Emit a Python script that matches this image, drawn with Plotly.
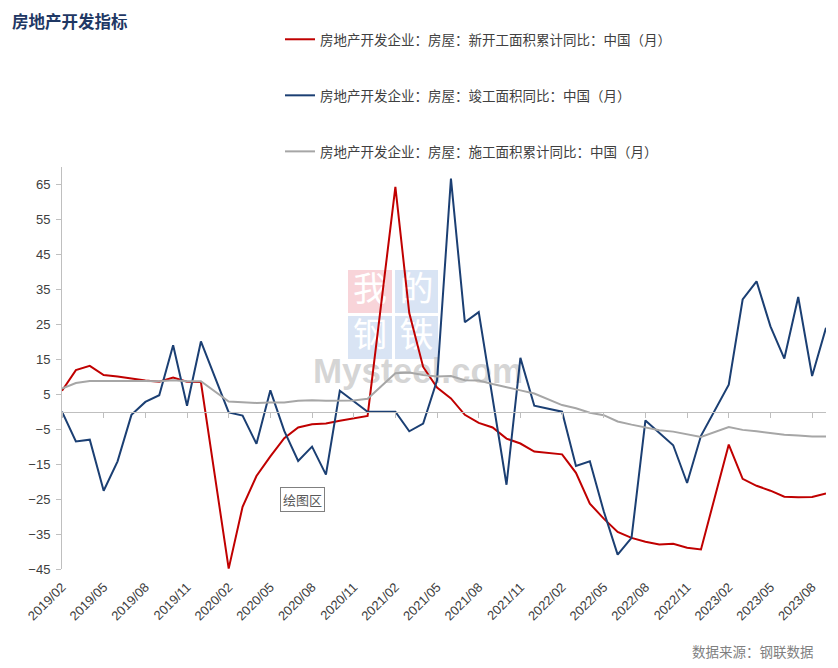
import plotly.graph_objects as go
import pandas as pd

# ---- data ----
months = [p.strftime("%Y/%m") for p in pd.period_range("2019-02", "2023-09", freq="M")]

new_start = [6.0, 11.9, 13.1, 10.5, 10.1, 9.5, 8.9, 8.6, 9.8, 8.6, 8.5, None,
             -44.9, -27.2, -18.4, -12.8, -7.6, -4.5, -3.6, -3.4, -2.6, -2.0, -1.2, None,
             64.3, 28.2, 12.8, 6.9, 3.8, -0.9, -3.2, -4.5, -7.7, -9.1, -11.4, None,
             -12.2, -17.5, -26.3, -30.6, -34.4, -36.1, -37.2, -38.0, -37.8, -38.9, -39.4, None,
             -9.4, -19.2, -21.2, -22.6, -24.3, -24.5, -24.4, -23.4]

completed = [0.0, -8.5, -8.0, -22.6, -14.2, -0.9, 2.8, 4.7, 19.0, 1.7, 20.1, None,
             -0.2, -1.1, -9.2, 6.1, -5.5, -14.1, -10.0, -18.0, 6.0, 3.0, 0.0, None,
             0.0, -5.6, -3.4, 9.0, 66.7, 25.6, 28.5, 3.2, -20.9, 15.4, 1.7, None,
             0.0, -15.5, -14.2, -28.5, -40.9, -36.1, -2.5, -6.0, -9.6, -20.4, -6.9, None,
             7.7, 32.1, 37.3, 24.4, 15.2, 32.8, 10.2, 24.0]

under_constr = [6.6, 8.2, 8.8, 8.8, 8.8, 9.0, 8.8, 8.7, 9.0, 8.7, 8.7, None,
                2.9, 2.6, 2.5, 2.6, 2.6, 3.1, 3.3, 3.1, 3.2, 3.2, 3.7, None,
                11.0, 11.2, 10.5, 10.1, 10.2, 9.0, 8.9, 7.9, 7.1, 6.1, 5.2, None,
                1.9, 1.0, -0.3, -1.0, -2.8, -3.7, -4.5, -5.3, -5.7, -6.5, -7.2, None,
                -4.4, -5.2, -5.6, -6.2, -6.6, -6.8, -7.1, -7.1]

tick_labels = ["2019/02", "2019/05", "2019/08", "2019/11", "2020/02", "2020/05",
               "2020/08", "2020/11", "2021/02", "2021/05", "2021/08", "2021/11",
               "2022/02", "2022/05", "2022/08", "2022/11", "2023/02", "2023/05",
               "2023/08"]
y_ticks = [-45, -35, -25, -15, -5, 5, 15, 25, 35, 45, 55, 65]

series_names = ["房地产开发企业：房屋：新开工面积累计同比：中国（月）",
                "房地产开发企业：房屋：竣工面积同比：中国（月）",
                "房地产开发企业：房屋：施工面积累计同比：中国（月）"]
series_colors = ["#C00000", "#1B3F73", "#A6A6A6"]

idx = list(range(len(months)))
tick_pos = [months.index(t) for t in tick_labels]

CJK = "Noto Sans CJK SC"
AXIS_C = "#BFBFBF"

fig = go.Figure()
for name, vals, col, g in zip(series_names, [new_start, completed, under_constr],
                              series_colors, ["a", "b", "c"]):
    fig.add_trace(go.Scatter(x=idx, y=vals, mode="lines", name=name,
                             line=dict(color=col, width=2), connectgaps=True,
                             legendgroup=g))

# helper trace so the zero-crossing category axis is drawn
fig.add_trace(go.Scatter(x=[idx[0], idx[-1]], y=[None, None], xaxis="x2",
                         showlegend=False, hoverinfo="skip"))

y_min, y_max = -45, 70
zero_pos = (0 - y_min) / (y_max - y_min)

fig.update_layout(
    width=838, height=668, autosize=False,
    margin=dict(l=62, r=12, t=167, b=99, autoexpand=False),
    paper_bgcolor="white", plot_bgcolor="white",
    title=dict(text="<b>房地产开发指标</b>", x=12 / 838, xanchor="left", xref="container",
               y=1 - 22 / 668, yanchor="middle", yref="container",
               font=dict(family=CJK, size=16.5, color="#1F3864")),
    xaxis=dict(range=[0, len(months) - 1], tickvals=tick_pos, ticktext=tick_labels,
               tickangle=-45, showline=False, ticks="", showgrid=False, zeroline=False,
               ticklabelstandoff=7,
               tickfont=dict(family="Liberation Sans", size=13, color="#404040")),
    xaxis2=dict(overlaying="x", anchor="free", position=zero_pos, side="bottom",
                range=[0, len(months) - 1], tickvals=tick_pos, showticklabels=False,
                ticks="outside", ticklen=5, tickcolor=AXIS_C, showline=True,
                linecolor=AXIS_C, linewidth=1, showgrid=False, zeroline=False),
    yaxis=dict(range=[y_min, y_max], tickvals=y_ticks, showline=True, linecolor=AXIS_C,
               linewidth=1, ticks="outside", ticklen=5, tickcolor=AXIS_C,
               showgrid=False, zeroline=False, ticklabelstandoff=3,
               tickfont=dict(family="Liberation Sans", size=13, color="#404040")),
    legend=dict(xref="container", yref="container", x=280 / 838, y=1 - 24 / 668,
                xanchor="left", yanchor="top", tracegroupgap=35.5, itemwidth=30,
                bgcolor="rgba(0,0,0,0)",
                font=dict(family=CJK, size=13.5, color="#404040")),
    showlegend=True,
)

# footer and plot-area label
fig.add_annotation(text="数据来源：钢联数据", xref="paper", yref="paper",
                   x=(816 - 62) / 764, y=(569 - 651) / 402, xanchor="right", yanchor="middle",
                   showarrow=False, font=dict(family=CJK, size=13.5, color="#7F7F7F"))
fig.add_annotation(text="绘图区", xref="paper", yref="paper",
                   x=(302.5 - 62) / 764, y=(569 - 499.5) / 402, xanchor="center",
                   yanchor="middle", showarrow=False, bgcolor="white",
                   bordercolor="#808080", borderwidth=1, borderpad=2,
                   font=dict(family=CJK, size=13, color="#595959"))

# watermark (drawn below the lines)
def px2paper(X, Y):
    return (X - 62) / 764, (569 - Y) / 402

wm = [("我", 348, 270, 392, 313, "rgba(240,160,170,0.45)"),
      ("的", 395, 270, 438, 313, "rgba(170,195,230,0.45)"),
      ("钢", 348, 316, 392, 359, "rgba(170,195,230,0.45)"),
      ("铁", 395, 316, 438, 359, "rgba(170,195,230,0.45)")]
for ch, x0, y0, x1, y1, col in wm:
    a0, b1 = px2paper(x0, y0)
    a1, b0 = px2paper(x1, y1)
    fig.add_shape(type="rect", xref="paper", yref="paper", x0=a0, x1=a1, y0=b0, y1=b1,
                  fillcolor=col, line=dict(width=0), layer="below",
                  label=dict(text=ch, font=dict(family=CJK, size=34, color="white"),
                             textposition="middle center"))
a0, b1 = px2paper(316, 342)
a1, b0 = px2paper(520, 392)
fig.add_shape(type="rect", xref="paper", yref="paper", x0=a0, x1=a1, y0=b0, y1=b1,
              fillcolor="rgba(0,0,0,0)", line=dict(width=0), layer="below",
              label=dict(text="<b>Mysteel.com</b>",
                         font=dict(family="Liberation Sans", size=35,
                                   color="rgba(195,195,195,0.7)"),
                         textposition="middle center"))

fig.write_html("out.html")
